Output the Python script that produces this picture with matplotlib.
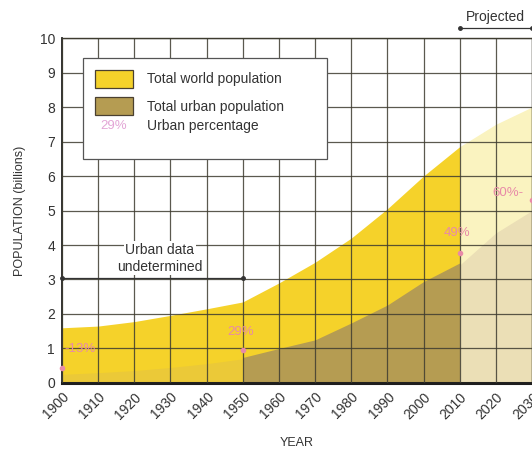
import matplotlib
matplotlib.use("Agg")
import matplotlib.pyplot as plt
from matplotlib.patches import Rectangle

plt.rcParams['font.family'] = ['Liberation Sans', 'DejaVu Sans']

# Historical estimates (billions)
years = [1900, 1910, 1920, 1930, 1940, 1950, 1960, 1970, 1980, 1990, 2000, 2010]
total_pop = [1.60, 1.65, 1.78, 1.96, 2.15, 2.35, 2.90, 3.50, 4.20, 5.05, 6.00, 6.85]

# Urban population, reliable from 1950 on
urban_years = [1950, 1960, 1970, 1980, 1990, 2000, 2010]
urban_pop = [0.74, 1.00, 1.25, 1.74, 2.26, 2.94, 3.48]

# Rough urban share before 1950
early_years = [1900, 1910, 1920, 1930, 1940, 1950]
early_urban = [0.25, 0.30, 0.36, 0.45, 0.56, 0.70]

# Projections
proj_years = [2010, 2020, 2030]
proj_total = [6.85, 7.50, 8.00]
proj_urban = [3.42, 4.35, 5.00]

# Urban percentage call-outs
pct_years = [1900, 1950, 2010, 2030]
pct_values = [13, 29, 49, 60]
pct_marker_y = [0.43, 0.96, 3.78, 5.30]

x_ticks = list(range(1900, 2031, 10))
y_ticks = list(range(0, 11))

YELLOW = '#f5d22a'
URBAN = '#b59c52'
EARLY = '#ebc938'
PROJ_TOTAL = '#faf3c0'
PROJ_URBAN = '#ebdfb6'
PINK = '#e88aa8'
GRID = '#3e3c30'
TXT = '#333333'

fig = plt.figure(figsize=(5.32, 4.51), dpi=100)
ax = fig.add_axes([0.1165, 0.1508, 0.8835, 0.7649])

ax.fill_between(years, 0, total_pop, color=YELLOW, lw=0, zorder=1)
ax.fill_between(early_years, 0, early_urban, color=EARLY, lw=0, zorder=1.5)
ax.fill_between(urban_years, 0, urban_pop, color=URBAN, lw=0, zorder=2)
ax.fill_between(proj_years, 0, proj_total, color=PROJ_TOTAL, lw=0, zorder=1)
ax.fill_between(proj_years, 0, proj_urban, color=PROJ_URBAN, lw=0, zorder=2)

ax.set_xlim(1900, 2030)
ax.set_ylim(0, 10)
ax.set_xticks(x_ticks)
ax.set_yticks(y_ticks)
ax.set_xticklabels([str(x) for x in x_ticks], rotation=45, ha='right',
                   rotation_mode='anchor', fontsize=10, color=TXT)
ax.set_yticklabels([str(y) for y in y_ticks], fontsize=10, color=TXT)
ax.tick_params(length=0, pad=5)
ax.tick_params(axis='x', pad=5)

ax.grid(True, color=GRID, lw=0.9, alpha=0.85, zorder=3)
ax.set_axisbelow(False)
for side in ['top', 'right']:
    ax.spines[side].set_color(GRID)
    ax.spines[side].set_linewidth(1.0)
ax.spines['left'].set_color('#222222')
ax.spines['left'].set_linewidth(1.3)
ax.spines['bottom'].set_color('#1e1e1e')
ax.spines['bottom'].set_linewidth(2.2)

ax.set_ylabel('POPULATION (billions)', fontsize=9, color=TXT, labelpad=10)
ax.set_xlabel('YEAR', fontsize=9, color=TXT, labelpad=11)

# Legend panel
ax.add_patch(Rectangle((1905.8, 6.49), 67.5, 2.93, facecolor='white',
                       edgecolor='#555555', lw=0.9, zorder=5))
ax.add_patch(Rectangle((1909.1, 8.55), 10.5, 0.52, facecolor=YELLOW,
                       edgecolor='#4a4030', lw=0.9, zorder=6))
ax.add_patch(Rectangle((1909.1, 7.77), 10.5, 0.52, facecolor=URBAN,
                       edgecolor='#4a4030', lw=0.9, zorder=6))
ax.text(1923.5, 8.81, 'Total world population', fontsize=10, color=TXT,
        va='center', ha='left', zorder=6)
ax.text(1923.5, 8.01, 'Total urban population', fontsize=10, color=TXT,
        va='center', ha='left', zorder=6)
ax.text(1914.4, 7.46, '29%', fontsize=9.5, color='#e3a6d6',
        va='center', ha='center', zorder=6)
ax.text(1923.5, 7.46, 'Urban percentage', fontsize=10, color=TXT,
        va='center', ha='left', zorder=6)

# Urban data undetermined bracket
ax.plot([1900, 1950], [3.04, 3.04], color='#333333', lw=0.9,
        marker='o', markersize=2.5, zorder=6, clip_on=False)
ax.text(1927.1, 3.86, 'Urban data', fontsize=10, color=TXT, ha='center',
        va='center', zorder=6,
        bbox=dict(facecolor='white', edgecolor='none', pad=1.0))
ax.text(1927.1, 3.37, 'undetermined', fontsize=10, color=TXT, ha='center',
        va='center', zorder=6,
        bbox=dict(facecolor='white', edgecolor='none', pad=1.0))

# Projected bracket
ax.plot([2010, 2030], [10.29, 10.29], color='#333333', lw=0.9,
        marker='o', markersize=2.5, zorder=6, clip_on=False)
ax.text(2019.8, 10.6, 'Projected', fontsize=10, color=TXT, ha='center',
        va='center', clip_on=False)

# Urban percentage call-outs
pct_label_pos = [(1900.8, 0.98, 'left', '-{}%'),
                 (1949.5, 1.48, 'center', '{}%'),
                 (2009.3, 4.35, 'center', '{}%'),
                 (2023.4, 5.50, 'center', '{}%-')]
for yr, val, my, (tx, ty, ha, fmt) in zip(pct_years, pct_values,
                                          pct_marker_y, pct_label_pos):
    ax.plot([yr], [my], 'o', color=PINK, markersize=3, zorder=7,
            clip_on=False)
    ax.text(tx, ty, fmt.format(val), fontsize=9.5, color=PINK, ha=ha,
            va='center', zorder=7)

fig.savefig('out.png', dpi=100)
